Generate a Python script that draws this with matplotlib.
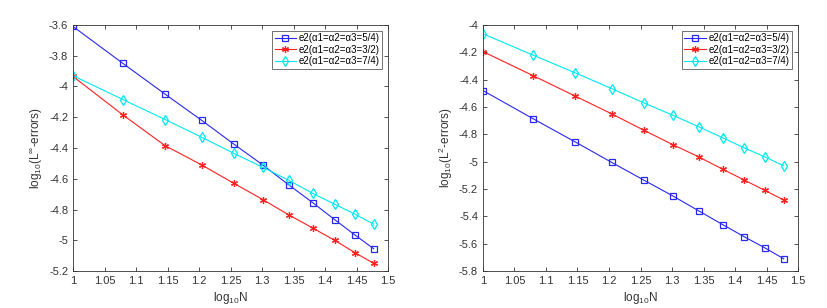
import matplotlib
matplotlib.use('Agg')
import matplotlib.pyplot as plt
import numpy as np
from matplotlib.ticker import FuncFormatter

plt.rcParams['font.family'] = ['Liberation Sans', 'DejaVu Sans']
plt.rcParams['axes.unicode_minus'] = False
plt.rcParams['mathtext.fontset'] = 'custom'
plt.rcParams['mathtext.rm'] = 'Liberation Sans'
plt.rcParams['mathtext.it'] = 'Liberation Sans'

# N = 10, 12, ..., 30
N = [10, 12, 14, 16, 18, 20, 22, 24, 26, 28, 30]
logN = np.log10(N)

labels = ['e2(\u03b11=\u03b12=\u03b13=5/4)',
          'e2(\u03b11=\u03b12=\u03b13=3/2)',
          'e2(\u03b11=\u03b12=\u03b13=7/4)']

# left panel: max-norm errors
linf_54 = [-3.61, -3.85, -4.05, -4.22, -4.375, -4.51, -4.64, -4.755, -4.865, -4.965, -5.055]
linf_32 = [-3.935, -4.185, -4.385, -4.51, -4.63, -4.735, -4.835, -4.92, -5.0, -5.08, -5.15]
linf_74 = [-3.93, -4.085, -4.215, -4.33, -4.435, -4.525, -4.61, -4.695, -4.765, -4.83, -4.895]

# right panel: L2 errors
l2_54 = [-4.48, -4.685, -4.855, -5.005, -5.135, -5.25, -5.36, -5.46, -5.55, -5.63, -5.71]
l2_32 = [-4.195, -4.37, -4.52, -4.65, -4.77, -4.875, -4.965, -5.055, -5.135, -5.21, -5.28]
l2_74 = [-4.065, -4.22, -4.35, -4.465, -4.57, -4.66, -4.745, -4.825, -4.90, -4.965, -5.03]

xticks = [1, 1.05, 1.1, 1.15, 1.2, 1.25, 1.3, 1.35, 1.4, 1.45, 1.5]

fig = plt.figure(figsize=(8.27, 3.08), dpi=100)
ax1 = fig.add_axes([0.0883, 0.120, 0.381, 0.799])
ax2 = fig.add_axes([0.584, 0.120, 0.381, 0.799])

tick_col = '#333333'
styles = [dict(color='#2828ee', marker='s', ms=4.2),
          dict(color='#ff2020', marker=(6, 2, 0), ms=5),
          dict(color='#00e8ee', marker='d', ms=5.5)]


def draw(ax, series, ylim, yticks, ylabel):
    for ys, st, lab in zip(series, styles, labels):
        ax.plot(logN, ys, color=st['color'], marker=st['marker'], ms=st['ms'],
                mfc='none', mec=st['color'], mew=0.9, lw=0.8, label=lab)
    ax.set_xlim(1, 1.5)
    ax.set_ylim(*ylim)
    ax.set_xticks(xticks)
    ax.set_yticks(yticks)
    ax.xaxis.set_major_formatter(FuncFormatter(lambda v, p: '%g' % round(v, 2)))
    ax.yaxis.set_major_formatter(FuncFormatter(lambda v, p: '%g' % round(v, 2)))
    ax.tick_params(direction='in', top=True, right=True, labelsize=8,
                   colors=tick_col, length=3, width=0.6)
    for s in ax.spines.values():
        s.set_color('#333333')
        s.set_linewidth(0.6)
    ax.set_xlabel('log$_{10}$N', fontsize=8.5, color=tick_col, labelpad=3)
    ax.set_ylabel(ylabel, fontsize=8.5, color=tick_col, labelpad=3)
    leg = ax.legend(loc='upper right', fontsize=7, frameon=True, fancybox=False,
                    borderpad=0.25, labelspacing=0.15, handlelength=2.2,
                    handletextpad=0.3, borderaxespad=0.6)
    leg.get_frame().set_edgecolor('#333333')
    leg.get_frame().set_linewidth(0.6)


draw(ax1, [linf_54, linf_32, linf_74], (-5.2, -3.6),
     [-5.2, -5, -4.8, -4.6, -4.4, -4.2, -4, -3.8, -3.6],
     'log$_{10}$(L$^{\\infty}$-errors)')
draw(ax2, [l2_54, l2_32, l2_74], (-5.8, -4),
     [-5.8, -5.6, -5.4, -5.2, -5, -4.8, -4.6, -4.4, -4.2, -4],
     'log$_{10}$(L$^{2}$-errors)')

plt.savefig('out.png', dpi=100)
